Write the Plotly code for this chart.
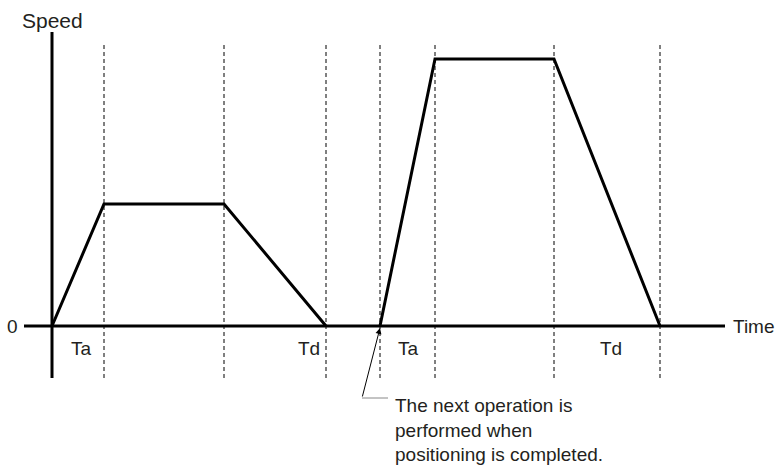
import plotly.graph_objects as go

# ---- data (time and speed in arbitrary units) ----
profile1_time = [0, 52, 172, 274]
profile1_speed = [0, 122, 122, 0]
profile2_time = [328, 383, 502, 608]
profile2_speed = [0, 267, 267, 0]
boundary_times = [52, 172, 274, 328, 383, 502, 608]
phase_labels = ["Ta", "Td", "Ta", "Td"]
phase_label_times = [29, 257, 356, 559]
note_text = "The next operation is<br>performed when<br>positioning is completed."

FONT = "Liberation Sans, Arial, sans-serif"
TXT = "#231f20"

fig = go.Figure()

# dashed phase boundaries
dx, dy = [], []
for t in boundary_times:
    dx += [t, t, None]
    dy += [281, -52, None]
fig.add_trace(go.Scatter(x=dx, y=dy, mode="lines",
                         line=dict(color="black", width=1, dash="4px,3px"),
                         hoverinfo="skip", showlegend=False))

# axes
fig.add_trace(go.Scatter(x=[-28, 673], y=[0, 0], mode="lines",
                         line=dict(color="black", width=3), showlegend=False, hoverinfo="skip"))
fig.add_trace(go.Scatter(x=[0, 0], y=[294, -52], mode="lines",
                         line=dict(color="black", width=3), showlegend=False, hoverinfo="skip"))

# speed profiles
for tx, sp in [(profile1_time, profile1_speed), (profile2_time, profile2_speed)]:
    fig.add_trace(go.Scatter(x=tx, y=sp, mode="lines",
                             line=dict(color="black", width=3),
                             showlegend=False, hoverinfo="skip"))

annos = []
for lab, t in zip(phase_labels, phase_label_times):
    annos.append(dict(x=t, y=-22, text=lab, showarrow=False,
                      font=dict(size=19, color=TXT, family=FONT)))
annos.append(dict(x=0, y=306, text="Speed", showarrow=False,
                  font=dict(size=21, color=TXT, family=FONT)))
annos.append(dict(x=-40, y=0, text="0", showarrow=False,
                  font=dict(size=19, color=TXT, family=FONT)))
annos.append(dict(x=679, y=0, text="Time", showarrow=False, xanchor="left",
                  font=dict(size=19, color=TXT, family=FONT)))
# arrow
annos.append(dict(x=328, y=-2, ax=310, ay=-72, axref="x", ayref="y",
                  text="", showarrow=True, arrowhead=2, arrowsize=1.2,
                  arrowwidth=1, arrowcolor="black"))
annos.append(dict(x=341, y=-67, text=note_text, showarrow=False,
                  xanchor="left", yanchor="top", align="left",
                  font=dict(size=19, color=TXT, family=FONT)))

fig.update_layout(
    width=782, height=469,
    margin=dict(l=0, r=0, t=0, b=0),
    paper_bgcolor="white", plot_bgcolor="white",
    xaxis=dict(range=[-52, 730], visible=False, fixedrange=True),
    yaxis=dict(range=[-143, 326], visible=False, fixedrange=True),
    annotations=annos,
    shapes=[dict(type="line", x0=310, x1=336, y0=-72, y1=-72,
                 line=dict(color="#888888", width=1))],
)

fig.write_html("out.html",
               config={"displayModeBar": False},
               post_script="document.body.style.margin='0';document.body.style.overflow='hidden';")
